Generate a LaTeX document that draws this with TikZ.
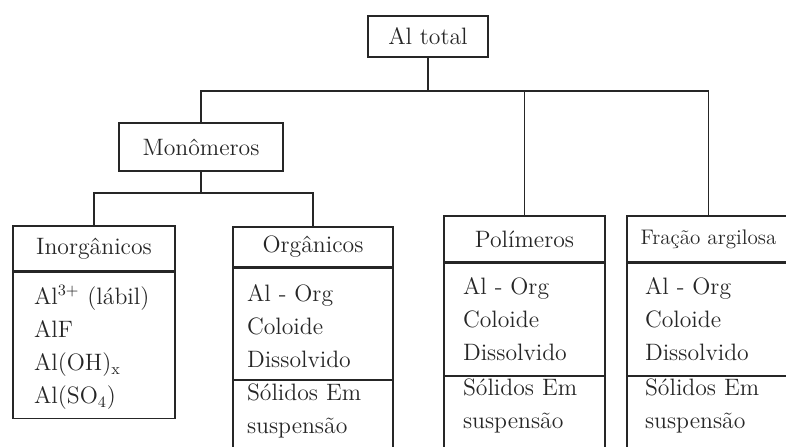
\documentclass[tikz,border=0pt]{standalone}
\usepackage{tikz}
\usetikzlibrary{positioning}
\newcommand\boxfont{\fontsize{13.5}{18.8}\selectfont}
\newcommand\smallboxfont{\fontsize{12}{14}\selectfont}
\tikzset{hd/.style={draw, inner sep=0pt, font=\boxfont}}
\tikzset{bd/.style={draw, align=left, inner ysep=0pt, font=\boxfont}}
\tikzset{ln/.style={line width=0.7pt, black!85}}

\begin{document}
\begin{tikzpicture}[x=0.02cm, y=-0.02cm, every node/.style={ln}]
\useasboundingbox (0,0) rectangle (786,446);
\clip (0,0) rectangle (786,446);

\node[hd, minimum width=2.4cm, minimum height=0.82cm] (total) at (428,36.5) {Al total};
\node[hd, minimum width=3.28cm, minimum height=0.96cm] (mono) at (201,147) {Monômeros};

% inorganicos
\node[hd, minimum width=3.24cm, minimum height=0.9cm] (inorg) at (94,248.5) {Inorgânicos};
\node[bd, inner xsep=0.42cm, text width=2.4cm, text height=0.64cm, text depth=2.28cm]
  (inorgbody) [below=0pt of inorg]
  {Al$^{3+}$~(lábil)\\AlF\\Al(OH)$_{\mathrm{x}}$\\Al(SO$_4$)};

% organicos
\node[hd, minimum width=3.2cm, minimum height=0.8cm] (org) at (313,247) {Orgânicos};
\node[bd, inner xsep=0.28cm, text width=2.64cm, text height=0.66cm, text depth=1.56cm]
  (orgdis) [below=0pt of org] {Al - Org\\Coloide\\Dissolvido};
\node[bd, inner xsep=0.28cm, text width=2.64cm, text height=0.4cm, text depth=2cm]
  (orgsus) [below=0pt of orgdis] {Sólidos Em\\suspensão};

% polimeros
\node[hd, minimum width=3.22cm, minimum height=0.92cm] (pol) at (524.5,239) {Polímeros};
\node[bd, inner xsep=0.38cm, text width=2.46cm, text height=0.62cm, text depth=1.62cm]
  (poldis) [below=0pt of pol] {Al - Org\\Coloide\\Dissolvido};
\node[bd, inner xsep=0.38cm, text width=2.46cm, text height=0.38cm, text depth=2cm]
  (polsus) [below=0pt of poldis] {Sólidos Em\\suspensão};

% fracao argilosa
\node[hd, minimum width=3.26cm, minimum height=0.92cm, font=\smallboxfont] (frac) at (708.5,239) {Fração argilosa};
\node[bd, inner xsep=0.36cm, text width=2.54cm, text height=0.62cm, text depth=1.62cm]
  (fracdis) [below=0pt of frac] {Al - Org\\Coloide\\Dissolvido};
\node[bd, inner xsep=0.36cm, text width=2.54cm, text height=0.38cm, text depth=2cm]
  (fracsus) [below=0pt of fracdis] {Sólidos Em\\suspensão};

\coordinate (bus) at (428,91);
\coordinate (monobus) at (201,193);

\draw[ln] (total) -- (bus);
\draw[ln] (mono) |- (bus) -| (frac);
\draw[ln] (pol) -- (pol |- bus);

\draw[ln] (mono) -- (monobus);
\draw[ln] (inorg) |- (monobus) -| (org);
\end{tikzpicture}
\end{document}
